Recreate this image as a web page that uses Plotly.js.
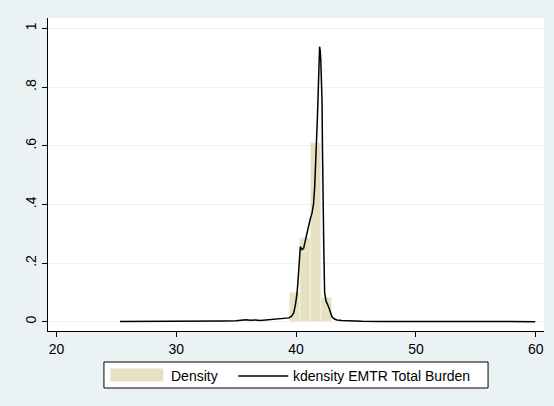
<!DOCTYPE html>
<html>
<head>
<meta charset="utf-8">
<script src="https://cdn.plot.ly/plotly-3.0.1.min.js"></script>
<style>html,body{margin:0;padding:0;background:#EAF2F3;}#chart{width:554px;height:406px;}</style>
</head>
<body>
<div id="chart"></div>
<script>
// Histogram bins (centers, width) and densities
const binCenters = [39.87, 40.75, 41.63, 42.51];
const binWidth = 0.88;
const binDensity = [0.100, 0.286, 0.610, 0.082];

// Kernel density estimate of EMTR Total Burden
const kdX = [25.3, 28, 30, 32, 33, 34, 35, 35.5, 35.8, 36.2, 36.6, 37, 37.5, 38, 38.4, 38.8, 39.1, 39.4, 39.6, 39.8, 39.95, 40.08, 40.16, 40.24, 40.3, 40.35, 40.42, 40.49, 40.56, 40.63, 40.73, 40.83, 40.99, 41.16, 41.33, 41.45, 41.55, 41.63, 41.71, 41.78, 41.85, 41.91, 41.96, 42.01, 42.06, 42.11, 42.16, 42.2, 42.24, 42.31, 42.38, 42.5, 42.71, 42.85, 42.99, 43.2, 43.41, 43.8, 44.5, 45.5, 47, 50, 55, 59.96];
const kdY = [0.0003, 0.0003, 0.0004, 0.0006, 0.0012, 0.002, 0.003, 0.006, 0.007, 0.005, 0.006, 0.004, 0.006, 0.007, 0.007, 0.010, 0.011, 0.013, 0.018, 0.030, 0.060, 0.098, 0.140, 0.188, 0.230, 0.256, 0.252, 0.246, 0.248, 0.251, 0.270, 0.289, 0.313, 0.347, 0.371, 0.400, 0.460, 0.530, 0.609, 0.700, 0.790, 0.870, 0.938, 0.925, 0.890, 0.830, 0.756, 0.590, 0.415, 0.250, 0.098, 0.070, 0.051, 0.030, 0.017, 0.009, 0.0058, 0.004, 0.002, 0.0015, 0.001, 0.0006, 0.0003, 0.0002];

const xTicks = [20, 30, 40, 50, 60];
const yTicks = [0, 0.2, 0.4, 0.6, 0.8, 1];
const yTickText = ['0', '.2', '.4', '.6', '.8', '1'];
const legendLabels = ['Density', 'kdensity EMTR Total Burden'];

const barColor = '#E6E1C1';
const bg = '#EAF2F3';

const traces = [
  {type: 'bar', x: binCenters, y: binDensity, width: binWidth,
   marker: {color: barColor, line: {color: '#F3F1E4', width: 1}},
   showlegend: false, hoverinfo: 'skip'},
  {type: 'scatter', mode: 'lines', x: kdX, y: kdY,
   line: {color: '#000000', width: 1.5},
   showlegend: false, hoverinfo: 'skip'}
];

// pixel -> paper helpers for the legend box
const L = 47.5, R = 544, T = 18, B = 331;
const px = v => (v - L) / (R - L);
const py = v => (B - v) / (B - T);

const layout = {
  width: 554, height: 406,
  margin: {l: L, r: 554 - R, t: T, b: 406 - B, pad: 0},
  paper_bgcolor: bg, plot_bgcolor: '#FFFFFF',
  font: {family: 'Liberation Sans, Arial, sans-serif', size: 14, color: '#000'},
  showlegend: false,
  bargap: 0,
  xaxis: {range: [19.29, 60.69], tickvals: xTicks, ticktext: xTicks.map(String),
    showgrid: false, zeroline: false, showline: true, linecolor: '#000', linewidth: 1,
    ticks: 'outside', ticklen: 5, tickcolor: '#000', tickfont: {size: 14}, mirror: false},
  yaxis: {range: [-0.0317, 1.0358], tickvals: yTicks, ticktext: yTickText,
    tickangle: -90, showgrid: true, gridcolor: bg, gridwidth: 1, zeroline: false,
    showline: true, linecolor: '#000', linewidth: 1, ticks: 'outside', ticklen: 5,
    tickcolor: '#000', tickfont: {size: 14}, mirror: false},
  shapes: [
    {type: 'rect', xref: 'paper', yref: 'paper', x0: px(103.5), x1: px(488), y0: py(388), y1: py(362),
     fillcolor: '#FFFFFF', line: {color: '#000', width: 1}, layer: 'above'},
    {type: 'rect', xref: 'paper', yref: 'paper', x0: px(110), x1: px(163), y0: py(381.5), y1: py(368.5),
     fillcolor: barColor, line: {width: 0}, layer: 'above'},
    {type: 'line', xref: 'paper', yref: 'paper', x0: px(238), x1: px(288), y0: py(376), y1: py(376),
     line: {color: '#000', width: 1.5}, layer: 'above'}
  ],
  annotations: [
    {xref: 'paper', yref: 'paper', x: px(169), y: py(375.5), text: legendLabels[0],
     showarrow: false, xanchor: 'left', yanchor: 'middle', font: {size: 14, color: '#000'}},
    {xref: 'paper', yref: 'paper', x: px(291), y: py(375.5), text: legendLabels[1],
     showarrow: false, xanchor: 'left', yanchor: 'middle', font: {size: 14, color: '#000'}}
  ]
};

Plotly.newPlot('chart', traces, layout, {staticPlot: true, displayModeBar: false});
</script>
</body>
</html>
